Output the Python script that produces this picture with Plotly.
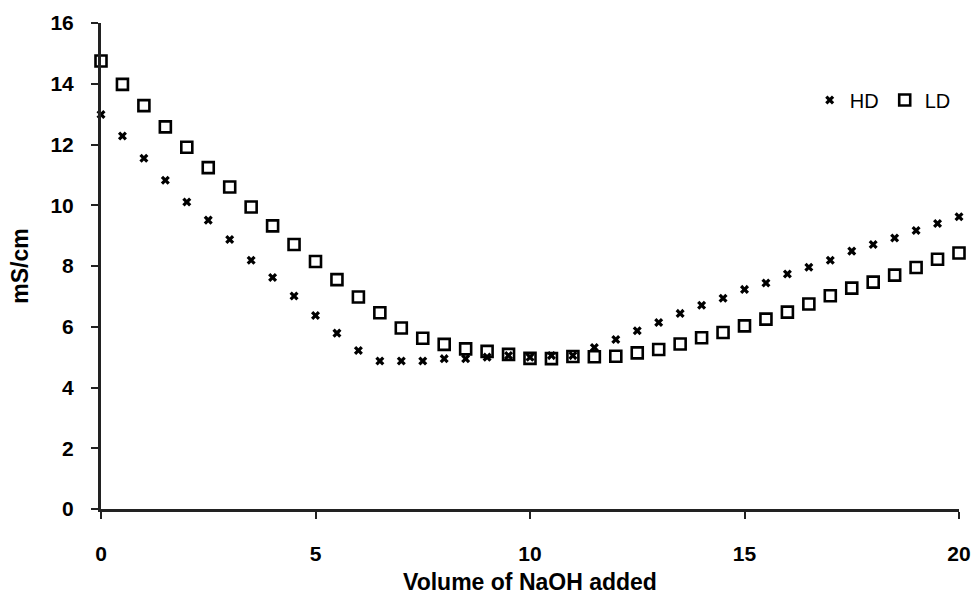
import plotly.graph_objects as go

volume = [i * 0.5 for i in range(41)]

hd = [12.99, 12.28, 11.55, 10.82, 10.11, 9.51, 8.87, 8.19, 7.62, 7.01,
      6.37, 5.79, 5.22, 4.87, 4.87, 4.87, 4.95, 4.95, 5.0, 5.05,
      5.0, 5.05, 5.05, 5.32, 5.58, 5.87, 6.14, 6.44, 6.71, 6.94,
      7.23, 7.44, 7.74, 7.96, 8.19, 8.49, 8.71, 8.92, 9.17, 9.40, 9.62]

ld = [14.75, 13.98, 13.28, 12.58, 11.91, 11.24, 10.60, 9.94, 9.32, 8.71,
      8.15, 7.55, 6.98, 6.46, 5.96, 5.62, 5.42, 5.27, 5.19, 5.09,
      4.96, 4.95, 5.02, 5.01, 5.03, 5.14, 5.25, 5.43, 5.64, 5.81,
      6.03, 6.25, 6.48, 6.75, 7.02, 7.27, 7.47, 7.70, 7.95, 8.22, 8.43]

x_ticks = [0, 5, 10, 15, 20]
y_ticks = [0, 2, 4, 6, 8, 10, 12, 14, 16]

FONT = "Liberation Sans, Arial, sans-serif"

fig = go.Figure()
fig.add_trace(go.Scatter(
    x=volume, y=hd, mode="markers", name="HD", cliponaxis=False,
    marker=dict(symbol="x", size=8, color="black", line=dict(width=0)),
))
fig.add_trace(go.Scatter(
    x=volume, y=ld, mode="markers", name="LD", cliponaxis=False,
    marker=dict(symbol="square-open", size=11, color="black",
                line=dict(width=2.6, color="black")),
))

fig.update_layout(
    width=976, height=604,
    margin=dict(l=101, r=17, t=23, b=95),
    paper_bgcolor="white", plot_bgcolor="white",
    font=dict(family=FONT, size=21, color="black"),
    showlegend=True,
    legend=dict(orientation="h", x=0.826, y=0.8416, xanchor="left", yanchor="middle",
                font=dict(family=FONT, size=20, color="black"),
                bgcolor="rgba(0,0,0,0)", itemwidth=30,
                entrywidth=30, entrywidthmode="pixels"),
    xaxis=dict(
        range=[0, 20], tickvals=x_ticks, ticktext=[str(v) for v in x_ticks],
        showgrid=False, zeroline=False, showline=True, linecolor="#222",
        linewidth=3, ticks="outside", ticklen=7, tickwidth=2, tickcolor="#222",
        tickfont=dict(family=FONT, size=21, color="black", weight="bold"),
        ticklabelstandoff=17, automargin=False,
        title=dict(text="<b>Volume of NaOH added</b>", standoff=10,
                   font=dict(family=FONT, size=23, color="black")),
    ),
    yaxis=dict(
        range=[0, 16], tickvals=y_ticks, ticktext=[str(v) for v in y_ticks],
        showgrid=False, zeroline=False, showline=True, linecolor="#222",
        linewidth=3, ticks="outside", ticklen=7, tickwidth=2, tickcolor="#222",
        tickfont=dict(family=FONT, size=21, color="black", weight="bold"),
        ticklabelstandoff=13, automargin=False,
        title=dict(text="<b>mS/cm</b>", standoff=16,
                   font=dict(family=FONT, size=23, color="black")),
    ),
)

fig.write_html("out.html")
